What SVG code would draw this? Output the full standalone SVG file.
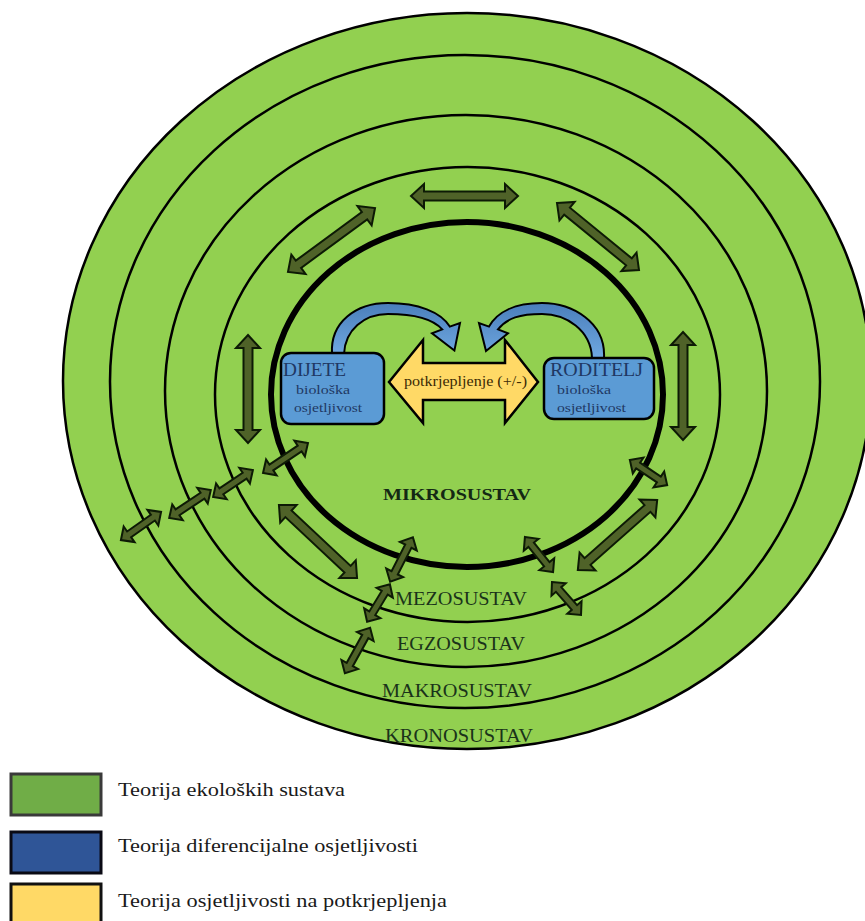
<svg xmlns="http://www.w3.org/2000/svg" width="865" height="921" viewBox="0 0 865 921">
<defs>
<style>
.ring{fill:#92D050;stroke:#000;stroke-width:2.5}
.mikro{fill:#92D050;stroke:#000;stroke-width:6}
.da{fill:#4F6228;stroke:#0d1a05;stroke-width:2;stroke-linejoin:miter}
.box{fill:#5B9BD5;stroke:#000;stroke-width:2.5}
.ba{fill:url(#bg);stroke:#000;stroke-width:2;stroke-linejoin:miter}
.bt{fill:#1F3864}
.rl{fill:#1a331a;font-size:18px}
.lg{fill:#1a1a1a;font-size:18px}
</style>
<linearGradient id="bg" x1="0" y1="0" x2="0" y2="1">
<stop offset="0" stop-color="#4A7EBB"/>
<stop offset="1" stop-color="#6FA8E0"/>
</linearGradient>
</defs>
<rect width="865" height="921" fill="#fff"/>
<g id="kronosustav"><ellipse class="ring" cx="467" cy="381" rx="404" ry="368"/></g>
<g id="makrosustav"><ellipse class="ring" cx="465" cy="381.5" rx="355" ry="326.5"/></g>
<g id="egzosustav"><ellipse class="ring" cx="466" cy="391" rx="301" ry="276"/></g>
<g id="mezosustav"><ellipse class="ring" cx="467.5" cy="394.5" rx="252.5" ry="227.5"/></g>
<g id="mikrosustav"><ellipse class="mikro" cx="467" cy="394.5" rx="196" ry="172.5"/></g>

<g id="connectors">
<path class="da" transform="translate(464.5,196)" d="M-53.5 0L-40.5-12L-40.5-4.5L40.5-4.5L40.5-12L53.5 0L40.5 12L40.5 4.5L-40.5 4.5L-40.5 12Z"/>
<path class="da" transform="translate(598,236.5) rotate(39.3)" d="M-53 0L-40-12L-40-4.5L40-4.5L40-12L53 0L40 12L40 4.5L-40 4.5L-40 12Z"/>
<path class="da" transform="translate(331.5,240) rotate(-36.3)" d="M-54 0L-41-12L-41-4.5L41-4.5L41-12L54 0L41 12L41 4.5L-41 4.5L-41 12Z"/>
<path class="da" transform="translate(248,389) rotate(90)" d="M-54 0L-41-12L-41-4.5L41-4.5L41-12L54 0L41 12L41 4.5L-41 4.5L-41 12Z"/>
<path class="da" transform="translate(683,386) rotate(90)" d="M-54 0L-41-12L-41-4.5L41-4.5L41-12L54 0L41 12L41 4.5L-41 4.5L-41 12Z"/>
<path class="da" transform="translate(318,541.5) rotate(43.1)" d="M-53.5 0L-40.5-12L-40.5-4.5L40.5-4.5L40.5-12L53.5 0L40.5 12L40.5 4.5L-40.5 4.5L-40.5 12Z"/>
<path class="da" transform="translate(617.5,535) rotate(-41.5)" d="M-53 0L-40-12L-40-4.5L40-4.5L40-12L53 0L40 12L40 4.5L-40 4.5L-40 12Z"/>
<path class="da" transform="translate(285.5,458) rotate(-33.7)" d="M-27 0L-17-9.5L-17-3.5L17-3.5L17-9.5L27 0L17 9.5L17 3.5L-17 3.5L-17 9.5Z"/>
<path class="da" transform="translate(233,483.5) rotate(-34)" d="M-24 0L-14-9.5L-14-3.5L14-3.5L14-9.5L24 0L14 9.5L14 3.5L-14 3.5L-14 9.5Z"/>
<path class="da" transform="translate(190,504) rotate(-33.7)" d="M-25 0L-15-9.5L-15-3.5L15-3.5L15-9.5L25 0L15 9.5L15 3.5L-15 3.5L-15 9.5Z"/>
<path class="da" transform="translate(141,526) rotate(-35)" d="M-24.5 0L-14.5-9.5L-14.5-3.5L14.5-3.5L14.5-9.5L24.5 0L14.5 9.5L14.5 3.5L-14.5 3.5L-14.5 9.5Z"/>
<path class="da" transform="translate(401.5,559.5) rotate(117.1)" d="M-25 0L-15-9.5L-15-3.5L15-3.5L15-9.5L25 0L15 9.5L15 3.5L-15 3.5L-15 9.5Z"/>
<path class="da" transform="translate(378.5,603) rotate(121.2)" d="M-22 0L-12-9.5L-12-3.5L12-3.5L12-9.5L22 0L12 9.5L12 3.5L-12 3.5L-12 9.5Z"/>
<path class="da" transform="translate(357.5,650.5) rotate(119)" d="M-26 0L-16-9.5L-16-3.5L16-3.5L16-9.5L26 0L16 9.5L16 3.5L-16 3.5L-16 9.5Z"/>
<path class="da" transform="translate(539,554.5) rotate(51.3)" d="M-22.5 0L-12.5-9.5L-12.5-3.5L12.5-3.5L12.5-9.5L22.5 0L12.5 9.5L12.5 3.5L-12.5 3.5L-12.5 9.5Z"/>
<path class="da" transform="translate(566.5,598.5) rotate(48.7)" d="M-22 0L-12-9.5L-12-3.5L12-3.5L12-9.5L22 0L12 9.5L12 3.5L-12 3.5L-12 9.5Z"/>
<path class="da" transform="translate(648.5,472.5) rotate(34)" d="M-22.5 0L-12.5-9.5L-12.5-3.5L12.5-3.5L12.5-9.5L22.5 0L12.5 9.5L12.5 3.5L-12.5 3.5L-12.5 9.5Z"/>
</g>

<g font-family="'Liberation Serif', 'Times New Roman', 'DejaVu Serif', serif">
<g id="potkrjepljenje">
<path d="M389 382L423 340L423 363L505 363L505 340L538 382L505 423L505 400L423 400L423 423Z" fill="#FFD966" stroke="#000" stroke-width="2.5" stroke-linejoin="miter"/>
<text x="404" y="386" font-size="14" fill="#3a2a05" textLength="123" lengthAdjust="spacingAndGlyphs">potkrjepljenje (+/-)</text>
</g>

<g id="dijete-arrow">
<path class="ba" d="M332 354C330 322 356 303 388 303C418 303 441 312 449.8 326.6L460 323L454.4 350.6L432 333.3L442.2 329.4C432 318 412 314 388 314C364 314 345 330 344 354Z"/>
</g>
<g id="roditelj-arrow">
<path class="ba" d="M604 358C606 322 572 303 542 303C515 303 497 312 489 326.6L479 323L486 351L508 333.3L498 329.4C507 318 520 314 542 314C566 314 591 330 592 358Z"/>
</g>

<g id="dijete">
<rect class="box" x="281" y="353" width="103" height="71" rx="10"/>
<text class="bt" x="283" y="376" font-size="18" textLength="63" lengthAdjust="spacingAndGlyphs">DIJETE</text>
<text class="bt" x="296" y="394" font-size="13.5" textLength="54" lengthAdjust="spacingAndGlyphs">biološka</text>
<text class="bt" x="294" y="412" font-size="13.5" textLength="68" lengthAdjust="spacingAndGlyphs">osjetljivost</text>
</g>
<g id="roditelj">
<rect class="box" x="544" y="358" width="110" height="61" rx="10"/>
<text class="bt" x="550" y="376" font-size="18" textLength="93" lengthAdjust="spacingAndGlyphs">RODITELJ</text>
<text class="bt" x="557" y="394" font-size="13.5" textLength="54" lengthAdjust="spacingAndGlyphs">biološka</text>
<text class="bt" x="557" y="412" font-size="13.5" textLength="69" lengthAdjust="spacingAndGlyphs">osjetljivost</text>
</g>

<g id="labels">
<text x="383" y="500" font-size="17" font-weight="bold" fill="#142814" textLength="148" lengthAdjust="spacingAndGlyphs">MIKROSUSTAV</text>
<text class="rl" x="395" y="605" textLength="132" lengthAdjust="spacingAndGlyphs">MEZOSUSTAV</text>
<text class="rl" x="397" y="650" textLength="128" lengthAdjust="spacingAndGlyphs">EGZOSUSTAV</text>
<text class="rl" x="382" y="697" textLength="150" lengthAdjust="spacingAndGlyphs">MAKROSUSTAV</text>
<text class="rl" x="385" y="742" textLength="148" lengthAdjust="spacingAndGlyphs">KRONOSUSTAV</text>
</g>

<g id="legend">
<rect x="11" y="774" width="90" height="41" fill="#70AD47" stroke="#3a3a3a" stroke-width="3"/>
<text class="lg" x="118" y="796" textLength="227" lengthAdjust="spacingAndGlyphs">Teorija ekoloških sustava</text>
<rect x="11" y="832" width="90" height="41" fill="#2F5597" stroke="#0a0a14" stroke-width="3"/>
<text class="lg" x="118" y="852" textLength="300" lengthAdjust="spacingAndGlyphs">Teorija diferencijalne osjetljivosti</text>
<rect x="11" y="884" width="90" height="41" fill="#FFD966" stroke="#111" stroke-width="3"/>
<text class="lg" x="118" y="907" textLength="329" lengthAdjust="spacingAndGlyphs">Teorija osjetljivosti na potkrjepljenja</text>
</g>
</g>
</svg>
